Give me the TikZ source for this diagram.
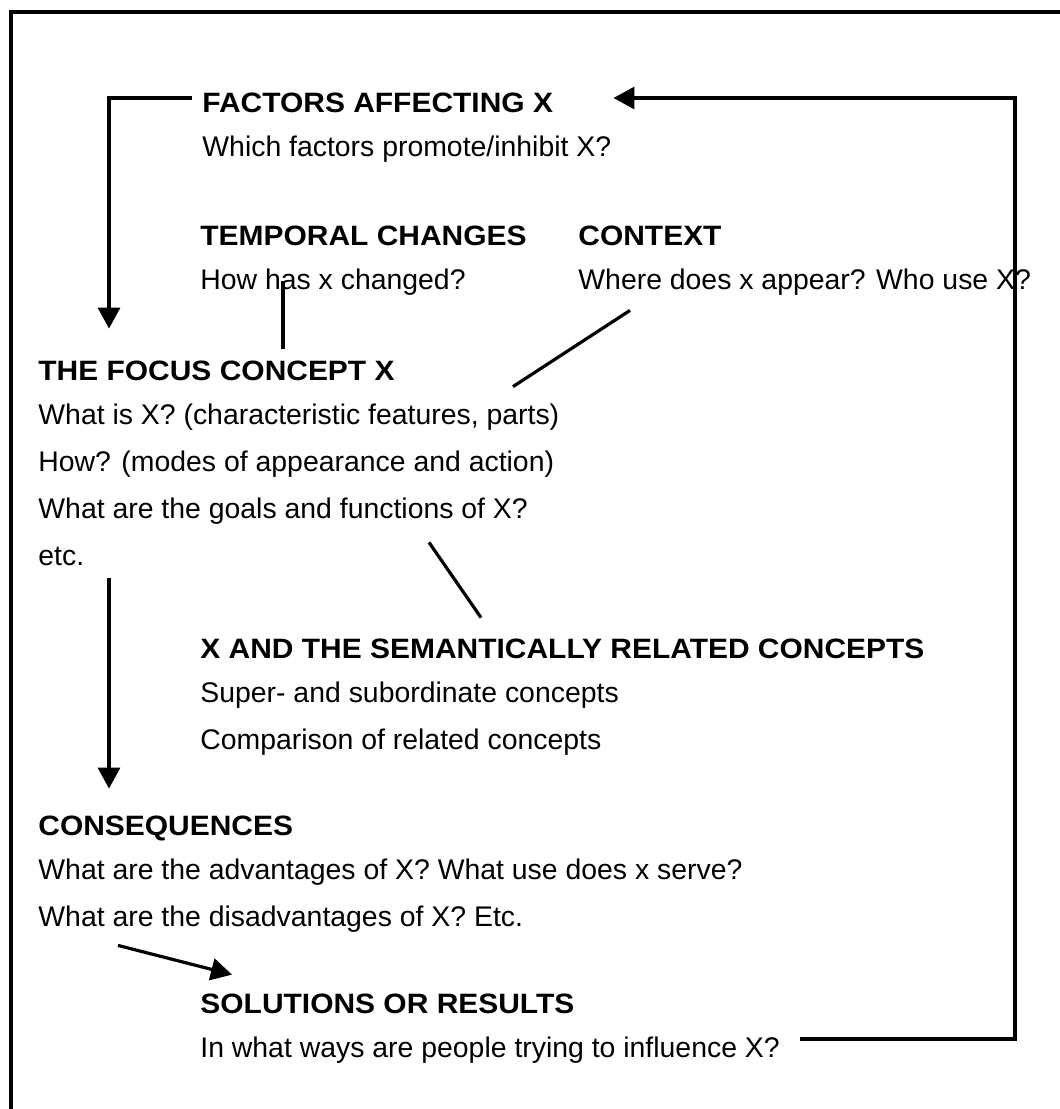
\documentclass[tikz,border=0pt]{standalone}
\usepackage{fontspec}
\setmainfont{Liberation Sans}
\newfontfamily\headfont{Liberation Sans}[FakeStretch=1.07]
\usetikzlibrary{positioning,arrows.meta}

\tikzset{
  heading/.style={font=\headfont\bfseries\fontsize{14}{16}\selectfont, anchor=west, inner sep=0pt, text height=10pt, text depth=0pt},
  ask/.style={font=\fontsize{14.2}{17}\selectfont, anchor=west, inner sep=0pt, text height=10pt, text depth=3pt},
  next/.style={below=23.5pt of #1.west, anchor=west},
  link/.style={line width=1.6pt},
  arr/.style={link, -{Triangle[width=11pt,length=10.5pt]}},
}

\begin{document}
\begin{tikzpicture}[x=0.5pt,y=-0.5pt]
  \useasboundingbox (0,0) rectangle (1060,1109);
  % frame
  \draw[link] (11,1109) -- (11,12) -- (1060,12);

  \coordinate (spine) at (109,0);
  \coordinate (loop) at (1015,0);

  % top part
  \node[heading] (fac) at (202,102) {FACTORS AFFECTING X};
  \node[ask, next=fac] (facq) {Which factors promote/inhibit X?};

  \node[heading] (temp) at (200,235) {TEMPORAL CHANGES};
  \node[ask, next=temp] (tempq) {How has x changed?};
  \node[heading] (ctx) at (578,235) {CONTEXT};
  \node[ask, next=ctx] (ctxq) {Where does x appear? Who use X?};

  % focus concept
  \node[heading] (foc) at (38,370) {THE FOCUS CONCEPT X};
  \node[ask, next=foc] (foc1) {What is X? (characteristic features, parts)};
  \node[ask, next=foc1] (foc2) {How? (modes of appearance and action)};
  \node[ask, next=foc2] (foc3) {What are the goals and functions of X?};
  \node[ask, next=foc3] (foc4) {etc.};

  \node[heading] (sem) at (200,648) {X AND THE SEMANTICALLY RELATED CONCEPTS};
  \node[ask, next=sem] (sem1) {Super- and subordinate concepts};
  \node[ask, next=sem1] (sem2) {Comparison of related concepts};

  % bottom part
  \node[heading] (cons) at (38,825) {CONSEQUENCES};
  \node[ask, next=cons] (cons1) {What are the advantages of X? What use does x serve?};
  \node[ask, next=cons1] (cons2) {What are the disadvantages of X? Etc.};

  \node[heading] (sol) at (200,1003) {SOLUTIONS OR RESULTS};
  \node[ask, next=sol] (sol1) {In what ways are people trying to influence X?};

  % connectors
  \draw[arr] ([xshift=-5pt,yshift=2pt]fac.west) -| ([yshift=15.5pt]foc.north -| spine);
  \draw[arr] ([xshift=10pt,yshift=5.5pt]sol1.east) -| ([yshift=2pt]fac.east -| loop)
    -- ([xshift=30pt,yshift=2pt]fac.east);
  \draw[link] ([xshift=41.5pt,yshift=7pt]tempq.south west)
    -- ([xshift=41.5pt,yshift=5.5pt]tempq.south west |- foc.north);
  \draw[link] ([xshift=26pt,yshift=-7.5pt]ctxq.south west)
    -- ([xshift=237.5pt,yshift=8.5pt]foc1.north west);
  \draw[link] ([xshift=195.5pt,yshift=-9pt]foc3.south west)
    -- ([xshift=140.5pt,yshift=10pt]sem.north west);
  \draw[arr] ([yshift=-3.5pt]foc4.south -| spine) -- ([yshift=13pt]cons.north -| spine);
  \draw[arr] ([xshift=40pt,yshift=-6.5pt]cons2.south west)
    -- ([xshift=16pt,yshift=9pt]sol.north west);
\end{tikzpicture}
\end{document}
